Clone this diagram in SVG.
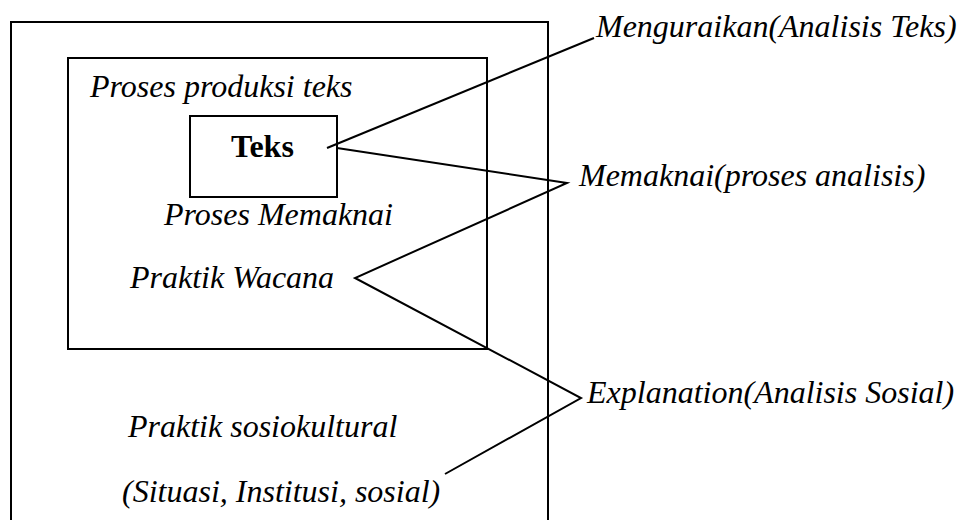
<svg xmlns="http://www.w3.org/2000/svg" width="959" height="520" viewBox="0 0 959 520">
<style>
.box{fill:none;stroke:#000;stroke-width:2}
.ln{fill:none;stroke:#000;stroke-width:2}
text{font-family:"Liberation Serif","Times New Roman",serif;font-size:32px;fill:#000}
.it{font-style:italic}
.b{font-weight:bold}
</style>
<rect width="959" height="520" fill="#fff"/>
<g id="outer">
<rect class="box" x="11" y="22" width="537" height="510"/>
<text class="it" x="128" y="437">Praktik sosiokultural</text>
<text class="it" x="122" y="502">(Situasi, Institusi, sosial)</text>
</g>
<g id="inner">
<rect class="box" x="68" y="58" width="419" height="291"/>
<text class="it" x="90" y="97">Proses produksi teks</text>
<text class="it" x="164" y="225">Proses Memaknai</text>
<text class="it" x="130" y="288">Praktik Wacana</text>
</g>
<g id="teks">
<rect class="box" x="190" y="116" width="147" height="81"/>
<text class="b" x="231" y="157">Teks</text>
</g>
<g id="menguraikan"><text class="it" x="596" y="37">Menguraikan(Analisis Teks)</text></g>
<g id="memaknai"><text class="it" x="579" y="186">Memaknai(proses analisis)</text></g>
<g id="explanation"><text class="it" x="587" y="403">Explanation(Analisis Sosial)</text></g>
<g id="connectors">
<path class="ln" d="M327 148 L594 38"/>
<path class="ln" d="M337 148 L567 183 L355 278 L581 398 L445 474"/>
</g>
</svg>
